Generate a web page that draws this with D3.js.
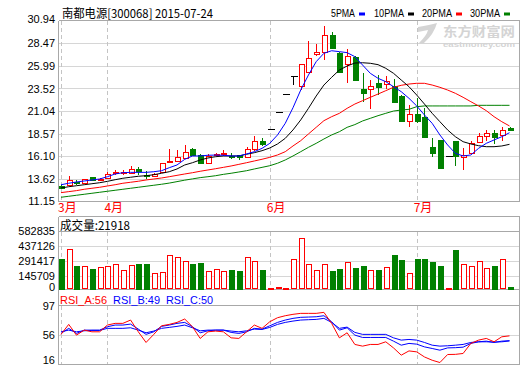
<!DOCTYPE html>
<html><head><meta charset="utf-8">
<script src="https://cdn.jsdelivr.net/npm/d3@7"></script>
<style>
body{margin:0;background:#fff;}
svg{display:block;font-family:'Liberation Sans','Noto Sans CJK SC',sans-serif;}
</style></head><body>
<svg id="c" width="520" height="365"></svg>
<script>
// ---------------- DATA ----------------
const stockTitle = "南都电源[300068] 2015-07-24";
const legendNames = ["5PMA","10PMA","20PMA","30PMA"];
const priceTicks = [30.94,28.47,25.99,23.52,21.04,18.57,16.10,13.62,11.15];
const volTicks = [582835,437126,291417,145709,0];
const rsiTicks = [97,56,16];
const monthLabels = ["3月","4月","6月","7月"];
const monthIndex = [0,6,27,46];
const volTitle = "成交量:21918";
const rsiTitles = ["RSI_A:56","RSI_B:49","RSI_C:50"];
const watermark = ["东方财富网","eastmoney.com"];

const openP  = [12.80,12.91,13.27,13.10,13.76,13.45,13.65,14.20,14.22,14.26, 14.67,14.02,13.85,14.37,15.48,15.58,15.85,16.87,16.21,15.36, 16.20,16.28,16.13,16.20,15.96,16.83,17.80,19.07,20.97,22.91, 24.89,23.79,25.37,27.28,27.50,29.40,27.46,26.18,27.02,23.46, 23.43,24.16,23.98,23.79,22.69,19.98,20.72,20.35,17.12,17.86, 16.13,17.75,15.96,16.39,17.67,18.30,18.59,18.41,19.14];
const highP  = [12.95,13.90,13.42,13.62,13.80,13.70,14.34,14.60,14.55,15.03, 14.90,14.40,14.20,15.32,16.87,16.76,17.30,17.00,16.35,16.30, 16.45,16.76,16.40,16.25,17.05,18.30,18.05,19.07,20.97,22.91, 24.89,26.25,28.77,28.41,30.42,29.70,27.50,27.83,27.10,25.19, 24.45,25.00,24.90,24.60,22.75,21.70,22.44,21.40,18.04,17.90, 16.13,17.80,16.94,17.70,18.60,18.96,18.96,19.25,19.25];
const lowP   = [12.45,12.80,12.95,13.02,13.40,13.30,13.60,14.05,14.05,14.10, 14.00,13.60,13.80,14.35,15.45,15.55,15.80,16.10,15.30,15.30, 16.05,16.05,15.75,15.70,15.85,16.70,17.20,19.07,20.97,22.91, 23.90,23.35,25.20,27.10,26.65,27.90,25.30,24.09,24.40,22.07, 21.23,22.80,23.50,21.90,19.85,19.32,19.69,18.10,16.02,14.80, 16.13,15.00,14.56,16.30,17.55,17.70,17.40,17.70,18.90];
const closeP = [12.62,13.46,13.10,13.54,13.46,13.52,14.12,14.30,14.32,14.67, 14.40,13.93,14.10,15.30,15.58,15.95,16.50,16.21,15.36,16.10, 16.30,16.38,16.02,15.96,16.83,17.75,17.40,19.07,20.97,22.91, 24.89,26.21,26.84,27.57,29.40,27.94,25.37,27.09,24.45,23.06, 23.79,23.72,24.34,22.07,19.98,20.72,19.98,18.15,16.39,14.81, 16.13,16.10,16.21,17.49,18.30,18.59,18.22,18.96,18.96];
const volume = [310000,405000,246000,243000,214000,233000,243000,259000,201000,253000, 262000,262000,175000,185000,350000,330000,291000,262000,272000,191000, 214000,194000,204000,194000,330000,291000,204000,29000,39000,29000, 311000,515000,262000,204000,262000,194000,214000,282000,226000,243000, 204000,204000,233000,350000,301000,175000,311000,311000,282000,243000, 29000,398000,262000,243000,291000,223000,243000,311000,40000];
const ma5  = [12.94,13.10,13.24,13.35,13.46,13.57,13.82,14.12,14.26,14.30, 14.30,14.30,14.37,14.48,14.81,15.11,15.73,16.10,16.10,16.18, 16.20,16.18,16.10,16.10,16.32,16.57,16.94,17.49,18.41,19.69, 21.40,23.35,25.00,26.47,27.39,27.67,27.57,27.46,27.02,26.10, 25.19,24.64,24.27,23.72,23.17,22.44,21.60,20.61,19.69,18.41, 17.31,16.39,16.10,16.21,16.94,17.49,17.86,18.22,18.66];
const ma10 = [12.58,12.72,12.83,12.94,13.05,13.16,13.31,13.49,13.65,13.76, 13.87,13.93,14.04,14.20,14.37,14.67,15.11,15.36,15.66,15.88, 16.02,16.10,16.10,16.10,16.29,16.46,16.68,16.98,17.42,18.04, 18.96,20.06,21.34,22.69,23.90,24.75,25.55,25.99,26.32,26.35, 26.29,26.14,25.74,25.19,24.45,23.72,22.80,21.81,20.79,19.87, 18.96,18.22,17.67,17.42,17.23,17.12,17.12,17.20,17.38];
const ma20 = [12.07,12.18,12.29,12.44,12.55,12.66,12.80,12.94,13.10,13.21, 13.32,13.46,13.57,13.68,13.82,13.97,14.12,14.26,14.42,14.56, 14.70,14.85,15.00,15.18,15.36,15.55,15.74,15.95,16.21,16.57, 17.20,17.78,18.52,19.25,19.98,20.42,20.79,21.34,21.81,22.18, 22.55,22.91,23.28,23.65,23.87,24.01,24.09,24.09,23.90,23.65, 23.35,22.99,22.55,22.07,21.60,21.08,20.42,19.87,19.40];
const ma30 = [11.56,11.67,11.78,11.89,12.00,12.11,12.22,12.33,12.44,12.55, 12.66,12.77,12.88,12.99,13.12,13.28,13.44,13.58,13.72,13.82, 13.93,14.08,14.20,14.34,14.48,14.67,14.85,15.03,15.30,15.66, 16.10,16.57,17.05,17.49,17.97,18.41,18.77,19.25,19.55,19.95, 20.24,20.53,20.79,21.04,21.15,21.23,21.52,21.60,21.60,21.60, 21.60,21.60,21.60,21.60,21.67,21.67,21.67,21.67,21.67];
const rsiA = [57,70.6,56,62.8,60.5,60.5,69.7,72,72,76.5, 60.5,46,57,68.7,70.6,73.3,77.9,67.4,51.5,60.5, 61.5,60.5,52.3,51.5,60.5,69.7,65.2,74.2,79.7,82.4, 84.3,85.6,85.6,85.6,87,72,52.3,59.2,43.3,41, 43.3,43.3,46.9,38.6,28.7,34.5,33.2,26.3,21.8,18.7, 29.6,29.8,31,44.7,49.2,51.5,46.9,53.7,55];
const rsiB = [58.3,65.2,58.3,62.8,62.8,62.8,67.4,69.7,69.7,71, 64.2,57,60.5,67.9,69.7,72,73.3,67.4,59.2,61.9, 62.8,62.8,59.7,58.3,60.5,65.2,64.2,68.7,73.3,76.5, 78.8,80.2,80.6,81,82.4,74.2,62.8,66,56,52.8, 52.8,52.8,52.8,47.8,42.3,44.7,43.7,40,37.8,35.5, 38.6,38.9,39.6,44.7,46.9,47.8,46,47.8,48.5];
const rsiC = [60.5,62.8,60.5,61.9,62.4,62.4,65.2,65.2,65.2,66, 62.8,59.2,61.5,65.2,66.5,67.9,69.7,66,61.9,62.8, 62.8,62.8,61.5,60.5,61.9,64.2,63.7,66.5,70.6,73.3, 75.1,76.5,77,77.4,78.8,73.3,65.2,66.9,59.7,57, 57,57,57,52.3,49.2,50.1,49.2,46,42.3,41, 41.5,42.3,43.3,46,46.9,46.9,46.5,46.9,48];

// ---------------- LAYOUT ----------------
const L = 59, R = 519;
const RED = "#ff0000", GREEN = "#008000", BLUE = "#0000ff", BLACK = "#000000";
const GRID = "#d6d6d6", BORDER = "#a8a8a8", DASH = "#c4c4c4";
const svg = d3.select("#c");
const idx = d3.range(openP.length);
const x = d3.scaleLinear().domain([0, openP.length - 1]).range([61, 509.5]);
const yP = d3.scaleLinear().domain([11.15, 30.94]).range([201, 21]);
const yV = d3.scaleLinear().domain([0, 582835]).range([291, 231]);
const yR = d3.scaleLinear().domain([16, 97]).range([364.5, 305]);
const px = v => Math.round(v) + 0.5;
const VBASE = 289;

const g = svg.append("g").attr("shape-rendering", "crispEdges");

// gridlines
g.selectAll(".pg").data(priceTicks.slice(1, -1)).join("line")
  .attr("x1", L).attr("x2", R).attr("y1", d => px(yP(d))).attr("y2", d => px(yP(d)))
  .attr("stroke", GRID);
g.selectAll(".vg").data(volTicks.slice(1, -1)).join("line")
  .attr("x1", L).attr("x2", R).attr("y1", d => px(yV(d))).attr("y2", d => px(yV(d)))
  .attr("stroke", GRID);
g.append("line").attr("x1", L).attr("x2", R).attr("y1", px(yR(56))).attr("y2", px(yR(56))).attr("stroke", GRID);

// month dashed lines
const spans = [[21, 201], [231.5, VBASE], [305.5, 364]];
monthIndex.forEach(mi => {
  spans.forEach(s => {
    g.append("line").attr("x1", px(x(mi))).attr("x2", px(x(mi))).attr("y1", s[0]).attr("y2", s[1])
      .attr("stroke", DASH).attr("stroke-dasharray", "4,3");
  });
});

// borders
const hl = (y, x1 = L, x2 = R) => g.append("line").attr("x1", x1).attr("x2", x2 + 1).attr("y1", y).attr("y2", y).attr("stroke", BORDER);
const vl = (xx, y1, y2) => g.append("line").attr("x1", xx).attr("x2", xx).attr("y1", y1).attr("y2", y2).attr("stroke", BORDER);
hl(20.5); hl(201.5); hl(216.5); hl(231.5); hl(289.5); hl(305.5); hl(364.5);
vl(58.5, 20.5, 201.5); vl(519.5, 20.5, 201.5);
vl(58.5, 216.5, 365); vl(519.5, 216.5, 365);

// watermark
const wm = svg.append("g").attr("fill", "#d4d4d4");
wm.append("path").attr("d", "M418,27 Q430,25 437,23 Q434,34 424,43 L419,43 Q427,35 428,30 Q423,31 418,32 Z");
wm.append("text").attr("x", 443).attr("y", 35.5).attr("font-size", 13).attr("font-weight", "bold")
  .attr("font-family", "'Noto Sans CJK SC'").attr("textLength", 72).attr("lengthAdjust", "spacingAndGlyphs").text(watermark[0]);
wm.append("text").attr("x", 443).attr("y", 46.5).attr("font-size", 8).attr("font-weight", "bold")
  .attr("font-family", "'Liberation Sans'")
  .attr("textLength", 72).attr("lengthAdjust", "spacingAndGlyphs").text(watermark[1]);

// ---------------- CANDLES ----------------
const cg = svg.append("g").attr("shape-rendering", "crispEdges");
idx.forEach(i => {
  const o = openP[i], c = closeP[i], h = highP[i], l = lowP[i];
  const cx = px(x(i));
  if (o === c) {
    cg.append("line").attr("x1", cx - 3).attr("x2", cx + 4).attr("y1", px(yP(c))).attr("y2", px(yP(c))).attr("stroke", BLACK);
    if (h !== l) cg.append("line").attr("x1", cx).attr("x2", cx).attr("y1", yP(h)).attr("y2", yP(l)).attr("stroke", BLACK);
  } else if (c > o) {
    const top = Math.round(yP(c)), bot = Math.round(yP(o));
    cg.append("line").attr("x1", cx).attr("x2", cx).attr("y1", yP(h)).attr("y2", top).attr("stroke", RED);
    cg.append("line").attr("x1", cx).attr("x2", cx).attr("y1", bot).attr("y2", yP(l)).attr("stroke", RED);
    cg.append("rect").attr("x", cx - 2.5).attr("y", top + 0.5).attr("width", 5).attr("height", Math.max(1, bot - top))
      .attr("fill", "#fff").attr("stroke", RED);
  } else {
    const top = Math.round(yP(o)), bot = Math.round(yP(c));
    cg.append("line").attr("x1", cx).attr("x2", cx).attr("y1", yP(h)).attr("y2", yP(l)).attr("stroke", GREEN);
    cg.append("rect").attr("x", cx - 3).attr("y", top).attr("width", 6).attr("height", Math.max(1, bot - top + 1))
      .attr("fill", GREEN);
  }
});

// MA lines
const lineP = d3.line().x((d, i) => x(i)).y(d => yP(d));
[[ma30, GREEN], [ma20, RED], [ma10, BLACK], [ma5, BLUE]].forEach(([arr, col]) => {
  svg.append("path").attr("d", lineP(arr)).attr("fill", "none").attr("stroke", col).attr("stroke-width", 1);
});

// ---------------- VOLUME ----------------
const vg = svg.append("g").attr("shape-rendering", "crispEdges");
idx.forEach(i => {
  const up = closeP[i] >= openP[i];
  const cx = px(x(i));
  const top = Math.min(VBASE - 1, Math.round(yV(volume[i])));
  if (up) {
    vg.append("rect").attr("x", cx - 2.5).attr("y", top + 0.5).attr("width", 5).attr("height", Math.max(0.5, VBASE - top - 1))
      .attr("fill", "#fff").attr("stroke", RED);
  } else {
    vg.append("rect").attr("x", cx - 3).attr("y", top).attr("width", 6).attr("height", VBASE - top + 0.5).attr("fill", GREEN);
  }
});

// ---------------- RSI ----------------
const lineR = d3.line().x((d, i) => x(i)).y(d => yR(d));
[[rsiC, BLUE], [rsiB, BLUE], [rsiA, RED]].forEach(([arr, col]) => {
  svg.append("path").attr("d", lineR(arr)).attr("fill", "none").attr("stroke", col).attr("stroke-width", 1);
});

// ---------------- AXES / TEXT ----------------
const axP = d3.axisLeft(yP).tickValues(priceTicks).tickSize(0).tickPadding(4).tickFormat(d3.format(".2f"));
const axPg = svg.append("g").attr("transform", `translate(${L},0)`).call(axP);
const axV = d3.axisLeft(yV).tickValues(volTicks).tickSize(0).tickPadding(4).tickFormat(d3.format("d"));
const axVg = svg.append("g").attr("transform", `translate(${L},0)`).call(axV);
const axR = d3.axisLeft(yR).tickValues(rsiTicks).tickSize(0).tickPadding(4).tickFormat(d3.format("d"));
const axRg = svg.append("g").attr("transform", `translate(${L},0)`).call(axR);
[axPg, axVg, axRg].forEach(a => {
  a.select(".domain").remove();
  a.selectAll("text").attr("font-size", 11).attr("fill", "#000")
    .attr("font-family", "'Liberation Sans','Noto Sans CJK SC',sans-serif");
});
axPg.selectAll(".tick").filter(d => d === 30.94).select("text").attr("dy", "0.1em");
axVg.selectAll(".tick").filter(d => d === 0).select("text").attr("dy", "-0.05em");
axRg.selectAll(".tick").filter(d => d === 97).select("text").attr("dy", "0.45em");
axRg.selectAll(".tick").filter(d => d === 16).select("text").attr("dy", "-0.05em");

// month labels
svg.selectAll(".ml").data(monthLabels).join("text")
  .attr("x", (d, i) => x(monthIndex[i]) - 3).attr("y", 212)
  .attr("font-size", 12).attr("fill", RED).attr("font-family", "'Noto Sans CJK SC'")
  .text(d => d);

// title
svg.append("text").attr("x", 62).attr("y", 18).attr("font-size", 12)
  .attr("font-family", "'Noto Sans CJK SC'").attr("textLength", 151).attr("lengthAdjust", "spacingAndGlyphs")
  .attr("fill", "#000").text(stockTitle);

// legend
const legCols = [BLUE, BLACK, RED, GREEN];
const legX = [331, 374, 422, 470];
const legW = [24, 30, 30, 30];
legendNames.forEach((n, i) => {
  svg.append("text").attr("x", legX[i]).attr("y", 17).attr("font-size", 11)
    .attr("textLength", legW[i]).attr("lengthAdjust", "spacingAndGlyphs").attr("fill", "#000").text(n);
  svg.append("rect").attr("x", legX[i] + legW[i] + 4).attr("y", 12.5).attr("width", 6).attr("height", 3).attr("fill", legCols[i]);
});

// volume title
svg.append("text").attr("x", 60).attr("y", 229.5).attr("font-size", 12)
  .attr("font-family", "'Noto Sans CJK SC'").attr("textLength", 70).attr("lengthAdjust", "spacingAndGlyphs")
  .attr("fill", "#000").text(volTitle);

// rsi titles
const rsiCols = [RED, BLUE, BLUE];
rsiTitles.forEach((t, i) => {
  svg.append("text").attr("x", 60 + i * 53).attr("y", 303.5).attr("font-size", 11.5)
    .attr("textLength", 47).attr("lengthAdjust", "spacingAndGlyphs").attr("fill", rsiCols[i]).text(t);
});
</script>
</body></html>
